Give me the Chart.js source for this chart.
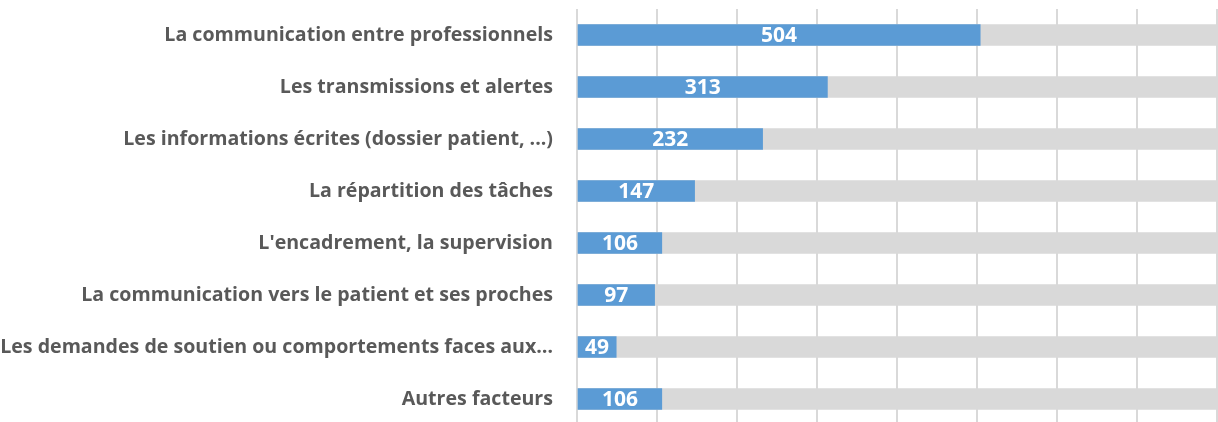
<!DOCTYPE html>
<html>
<head>
<meta charset="utf-8">
<script src="https://cdn.jsdelivr.net/npm/chart.js@4"></script>
<style>
  html, body { margin: 0; padding: 0; background: #fff; overflow: hidden; }
  #wrap { position: relative; width: 1218px; height: 425px; }
</style>
</head>
<body>
<div id="wrap"><canvas id="chart"></canvas></div>
<script>
// categories, top to bottom
const categories = [
  "La communication entre professionnels",
  "Les transmissions et alertes",
  "Les informations écrites (dossier patient, ...)",
  "La répartition des tâches",
  "L'encadrement, la supervision",
  "La communication vers le patient et ses proches",
  "Les demandes de soutien ou comportements faces aux…",
  "Autres facteurs"
];
const counts = [504, 313, 232, 147, 106, 97, 49, 106];
// grey track behind every bar (axis max)
const track = [800, 800, 800, 800, 800, 800, 800, 800];
const axisMax = 800;
const axisStep = 100;

const FONT = "'Open Sans', 'Noto Sans', sans-serif";

// draws the count in the middle of each blue bar
const barValues = {
  id: "barValues",
  afterDatasetsDraw(chart) {
    const ctx = chart.ctx;
    const meta = chart.getDatasetMeta(0);
    ctx.save();
    ctx.fillStyle = "#ffffff";
    ctx.font = "bold 21px " + FONT;
    ctx.textAlign = "center";
    ctx.textBaseline = "middle";
    meta.data.forEach((bar, i) => {
      const cx = (bar.x + bar.base) / 2;
      ctx.fillText(String(counts[i]), cx, bar.y + 1.5);
    });
    ctx.restore();
  }
};

const LEFT = 577;

new Chart(document.getElementById("chart"), {
  type: "bar",
  data: {
    labels: categories,
    datasets: [
      {
        label: "Nombre",
        data: counts,
        backgroundColor: "#5b9bd5",
        grouped: false,
        barThickness: 21
      },
      {
        label: "fond",
        data: track,
        backgroundColor: "#d9d9d9",
        grouped: false,
        barThickness: 21
      }
    ]
  },
  options: {
    indexAxis: "y",
    responsive: true,
    maintainAspectRatio: false,
    animation: false,
    layout: { padding: { top: 9, right: 1, left: 0, bottom: 0 } },
    plugins: {
      legend: { display: false },
      tooltip: { enabled: false }
    },
    scales: {
      x: {
        min: 0,
        max: axisMax,
        ticks: { display: false, stepSize: axisStep },
        grid: { color: "#d9d9d9", lineWidth: 2, drawTicks: false },
        border: { display: false }
      },
      y: {
        grid: { display: false },
        border: { display: false },
        ticks: {
          color: "#595959",
          padding: 16,
          font: { family: FONT, size: 19.6, weight: "bold" }
        },
        afterFit(scale) {
          scale.width = LEFT;
          // tick padding should only push labels left, not shrink the plot
          scale.paddingTop = 0;
          scale.paddingBottom = 0;
        }
      }
    }
  },
  plugins: [barValues]
});
</script>
</body>
</html>
